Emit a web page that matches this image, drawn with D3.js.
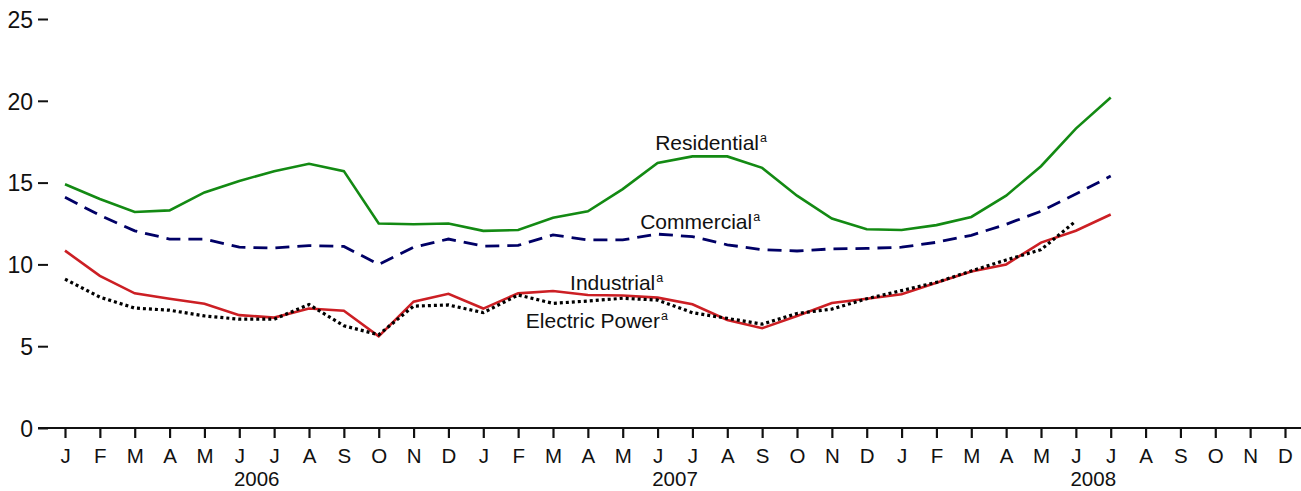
<!DOCTYPE html>
<html>
<head>
<meta charset="utf-8">
<script src="https://cdn.jsdelivr.net/npm/d3@7"></script>
<style>
  body { margin: 0; background: #fff; }
  text { font-family: "Liberation Sans", Arial, sans-serif; fill: #111; }
</style>
</head>
<body>
<div id="chart"></div>
<script>
// monthly values, Jan 2006 onward
var monthLabels = ['J','F','M','A','M','J','J','A','S','O','N','D',
                   'J','F','M','A','M','J','J','A','S','O','N','D',
                   'J','F','M','A','M','J','J','A','S','O','N','D']
var yearLabels = ['2006', '2007', '2008']
var yTicks = [0, 5, 10, 15, 20, 25]

var residential = [14.9, 14.0, 13.2, 13.3, 14.4, 15.1, 15.7, 16.15, 15.7, 12.5, 12.45, 12.5,
                   12.05, 12.1, 12.85, 13.25, 14.6, 16.2, 16.6, 16.6, 15.9, 14.2, 12.8, 12.15,
                   12.1, 12.4, 12.9, 14.2, 16.0, 18.3, 20.2]
var commercial = [14.1, 13.0, 12.05, 11.55, 11.55, 11.05, 11.0, 11.15, 11.1, 10.0, 11.05, 11.55,
                  11.12, 11.16, 11.8, 11.5, 11.5, 11.85, 11.7, 11.2, 10.9, 10.82, 10.95, 10.98,
                  11.05, 11.35, 11.78, 12.45, 13.25, 14.3, 15.4]
var industrial = [10.84, 9.3, 8.23, 7.9, 7.6, 6.9, 6.75, 7.3, 7.17, 5.6, 7.72, 8.2,
                  7.3, 8.23, 8.37, 8.13, 8.1, 7.97, 7.56, 6.6, 6.1, 6.85, 7.64, 7.9,
                  8.18, 8.88, 9.56, 10.0, 11.33, 12.06, 13.05]
var electricPower = [9.1, 8.0, 7.33, 7.2, 6.85, 6.65, 6.65, 7.55, 6.25, 5.7, 7.45, 7.52,
                     7.05, 8.13, 7.62, 7.76, 7.93, 7.82, 7.05, 6.7, 6.35, 7.0, 7.27, 7.9,
                     8.4, 8.9, 9.6, 10.27, 10.9, 12.65]

var width = 1301
var height = 491

var x = d3.scaleLinear().domain([0, 35]).range([65, 1285])
var y = d3.scaleLinear().domain([0, 25]).range([428, 19])

var svg = d3.select('#chart')
  .append('svg')
  .attr('width', width)
  .attr('height', height)

//y axis, ticks point into the plot
var yAxis = svg.append('g')
  .attr('transform', 'translate(48,0)')
  .call(d3.axisLeft(y).tickValues(yTicks).tickSize(10).tickPadding(5))
yAxis.select('.domain').remove()
yAxis.selectAll('line').attr('stroke', '#111').attr('stroke-width', 2)
yAxis.selectAll('text')
  .style('font-size', '23px')
  .attr('fill', '#111')
  .attr('dy', '0.36em')

//x axis
svg.append('line')
  .attr('x1', 38).attr('x2', width)
  .attr('y1', y(0)).attr('y2', y(0))
  .attr('stroke', '#111').attr('stroke-width', 2.2)

var xAxis = svg.append('g')
  .attr('transform', 'translate(0,' + y(0) + ')')
  .call(d3.axisBottom(x)
    .tickValues(d3.range(monthLabels.length))
    .tickSize(10)
    .tickPadding(0)
    .tickFormat(function(d) { return monthLabels[d] }))
xAxis.select('.domain').remove()
xAxis.selectAll('line').attr('stroke', '#111').attr('stroke-width', 2.2)
xAxis.selectAll('text')
  .style('font-size', '20.5px')
  .attr('fill', '#111')
  .attr('y', 34.5)
  .attr('dy', 0)

svg.selectAll('.year')
  .data(yearLabels)
  .enter()
  .append('text')
  .attr('class', 'year')
  .attr('x', function(d, i) { return x(i * 12 + 5.5) })
  .attr('y', 485.5)
  .attr('text-anchor', 'middle')
  .style('font-size', '20.5px')
  .text(function(d) { return d })

//lines
var line = d3.line()
  .x(function(d, i) { return x(i) })
  .y(function(d) { return y(d) })

var series = [
  { values: residential, color: '#138a13', width: 2.6, dash: null },
  { values: commercial, color: '#000066', width: 2.8, dash: '14,8' },
  { values: industrial, color: '#cc1f24', width: 2.6, dash: null },
  { values: electricPower, color: '#000', width: 3.2, dash: '3,3' }
]

svg.selectAll('.series')
  .data(series)
  .enter()
  .append('path')
  .attr('class', 'series')
  .attr('fill', 'none')
  .attr('stroke', function(d) { return d.color })
  .attr('stroke-width', function(d) { return d.width })
  .attr('stroke-dasharray', function(d) { return d.dash })
  .attr('d', function(d) { return line(d.values) })

//series labels, placed in data units
var labels = [
  { name: 'Residential', m: 16.93, v: 17.0 },
  { name: 'Commercial', m: 16.5, v: 12.17 },
  { name: 'Industrial', m: 14.49, v: 8.43 },
  { name: 'Electric Power', m: 13.22, v: 6.13 }
]

var lab = svg.selectAll('.lab')
  .data(labels)
  .enter()
  .append('text')
  .attr('class', 'lab')
  .attr('x', function(d) { return x(d.m) })
  .attr('y', function(d) { return y(d.v) })
  .style('font-size', '21px')
lab.append('tspan').text(function(d) { return d.name })
lab.append('tspan')
  .attr('dy', -8)
  .attr('dx', 1)
  .style('font-size', '12.5px')
  .text('a')
</script>
</body>
</html>
